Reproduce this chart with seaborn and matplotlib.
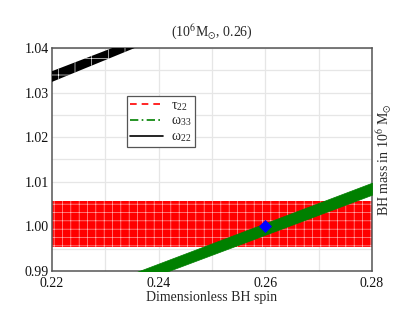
import numpy as np
import pandas as pd
import matplotlib
matplotlib.use("Agg")
import matplotlib.pyplot as plt
from matplotlib.lines import Line2D
import seaborn as sns

# ---- data ----
red_x = [0.22, 0.28]
red_lower = [0.9953, 0.9953]
red_upper = [1.0058, 1.0058]

green_x = [0.22, 0.28]
green_lower = [0.9802, 1.0071]
green_upper = [0.9826, 1.0098]

black_x = [0.22, 0.24]
black_lower = [1.0324, 1.0422]
black_upper = [1.0348, 1.0440]

true_spin = [0.26]
true_mass = [1.00]

legend_labels = ["τ$_{\\mathregular{22}}$", "ω$_{\\mathregular{33}}$", "ω$_{\\mathregular{22}}$"]
x_ticks = [0.22, 0.24, 0.26, 0.28]
y_ticks = [0.99, 1.00, 1.01, 1.02, 1.03, 1.04]

sns.set_style("white")
plt.rcParams["font.family"] = ["Liberation Serif", "DejaVu Serif"]
plt.rcParams["mathtext.fontset"] = "stix"
plt.rcParams["hatch.linewidth"] = 0.45
plt.rcParams["hatch.color"] = "white"

fig = plt.figure(figsize=(4.15, 3.21), dpi=100)
ax = fig.add_axes([0.1253, 0.1558, 0.7711, 0.6947])

# grid
for xv in np.arange(0.23, 0.28, 0.01):
    ax.axvline(xv, color="#e6e6e6", lw=0.9, zorder=0)
for yv in np.arange(0.995, 1.04, 0.005):
    ax.axhline(yv, color="#e6e6e6", lw=0.9, zorder=0)

ax.fill_between(red_x, red_lower, red_upper, facecolor="#ff0000",
                edgecolor="#ffb0b0", hatch="++", linewidth=0, zorder=2)
ax.fill_between(green_x, green_lower, green_upper, facecolor="#008000",
                edgecolor="#008000", linewidth=0.5, zorder=3)
ax.fill_between(black_x, black_lower, black_upper, facecolor="black",
                edgecolor="white", hatch="+", linewidth=0, zorder=3)

df = pd.DataFrame({"spin": true_spin, "mass": true_mass})
sns.scatterplot(data=df, x="spin", y="mass", marker="D", s=38, color="#0000ff",
                edgecolor="#0000ff", ax=ax, zorder=5, legend=False)

ax.set_xlim(0.22, 0.28)
ax.set_ylim(0.99, 1.04)
ax.set_xticks(x_ticks)
ax.set_xticklabels([f"{v:.2f}" for v in x_ticks])
ax.set_yticks(y_ticks)
ax.set_yticklabels([f"{v:.2f}" for v in y_ticks])
ax.tick_params(direction="in", length=3, width=0.8, labelsize=10, pad=2,
               color="#444444", labelcolor="#111111")
ax.tick_params(axis="x", pad=4)

for s in ax.spines.values():
    s.set_color("#555555")
    s.set_linewidth(1.1)

ax.set_xlabel("Dimensionless BH spin", fontsize=10, labelpad=1)
ax.yaxis.set_label_position("right")
ax.set_ylabel(r"BH mass in 10$^6$ M$_{\odot}$", fontsize=10, labelpad=2)
ax.set_title(r"(10$^6$M$_{\odot}$, 0.26)", fontsize=10, pad=8)

handles = [
    Line2D([0], [0], color="#ff0000", lw=1.2, ls=(0, (4, 3))),
    Line2D([0], [0], color="#008000", lw=1.2, ls=(0, (5, 2, 1, 2))),
    Line2D([0], [0], color="black", lw=1.2, ls="-"),
]
leg = ax.legend(handles, legend_labels, loc="upper left",
                bbox_to_anchor=(0.234, 0.785), borderaxespad=0,
                fancybox=False, framealpha=1, edgecolor="#555555",
                fontsize=10, handlelength=2.4, labelspacing=0.15,
                borderpad=0.2, handletextpad=0.6)
leg.get_frame().set_linewidth(0.9)

fig.savefig("out.png", dpi=100)
